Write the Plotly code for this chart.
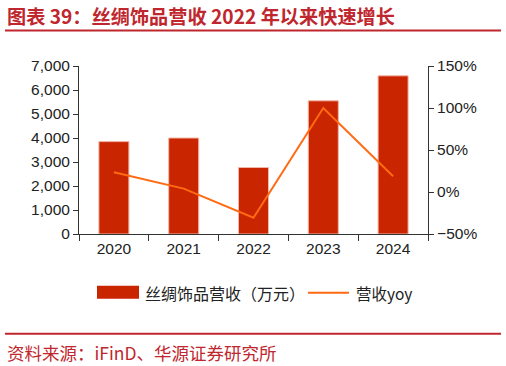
import plotly.graph_objects as go

years = ["2020", "2021", "2022", "2023", "2024"]
revenue = [3850, 4000, 2770, 5550, 6590]          # 丝绸饰品营收（万元）
yoy = [23.6, 4.0, -30.7, 100.0, 18.7]              # 营收yoy (%)
left_ticks = [0, 1000, 2000, 3000, 4000, 5000, 6000, 7000]
right_ticks = [-50, 0, 50, 100, 150]
right_labels = ["−50%", "0%", "50%", "100%", "150%"]

W, H = 506, 366
L, R, T, B = 79, 428, 65.5, 234
PW, PH = R - L, B - T

def px(x):
    return (x - L) / PW

def py(y):
    return (B - y) / PH

BAR = "#C82500"
LINE = "#FF6A13"
RED = "#C0262D"
TXT = "#222222"
AX = "#333333"

fig = go.Figure()
fig.add_trace(go.Bar(
    x=years, y=revenue, name="丝绸饰品营收（万元）",
    marker=dict(color=BAR, line=dict(color="#F2B8A8", width=1)),
    width=0.43, yaxis="y", showlegend=False,
))
fig.add_trace(go.Scatter(
    x=years, y=yoy, name="营收yoy", mode="lines",
    line=dict(color=LINE, width=2), yaxis="y2", showlegend=False,
))

tickfont = dict(family="Liberation Sans, Arial", size=15.5, color=TXT)

fig.update_layout(
    width=W, height=H,
    margin=dict(l=L, r=W - R, t=T, b=H - B, pad=0),
    paper_bgcolor="white", plot_bgcolor="white",
    xaxis=dict(
        type="category", showline=True, linecolor=AX, linewidth=1,
        ticks="outside", tickson="boundaries", ticklen=6, tickcolor=AX,
        tickfont=tickfont, showgrid=False, zeroline=False,
    ),
    yaxis=dict(
        range=[0, 7000], tickvals=left_ticks, tickformat=",",
        showline=True, linecolor=AX, linewidth=1,
        ticks="outside", ticklen=5, tickcolor=AX,
        tickfont=tickfont, showgrid=False, zeroline=False,
    ),
    yaxis2=dict(
        range=[-50, 150], tickmode="array", tickvals=right_ticks, ticktext=right_labels,
        overlaying="y", side="right",
        showline=True, linecolor=AX, linewidth=1,
        ticks="outside", ticklen=5, tickcolor=AX,
        tickfont=tickfont, showgrid=False, zeroline=False,
    ),
    showlegend=False,
)

shapes = [
    dict(type="line", xref="paper", yref="paper", x0=px(5), x1=px(501), y0=py(30), y1=py(30),
         line=dict(color=RED, width=2)),
    dict(type="line", xref="paper", yref="paper", x0=px(5), x1=px(501), y0=py(334), y1=py(334),
         line=dict(color=RED, width=2)),
    dict(type="rect", xref="paper", yref="paper", x0=px(97), x1=px(139), y0=py(299), y1=py(286),
         fillcolor=BAR, line=dict(width=0)),
    dict(type="line", xref="paper", yref="paper", x0=px(308), x1=px(349), y0=py(293), y1=py(293),
         line=dict(color=LINE, width=2)),
]

annotations = [
    dict(text="<b>图表 39：丝绸饰品营收 2022 年以来快速增长</b>", xref="paper", yref="paper",
         x=px(5), y=py(15.5), xanchor="left", yanchor="middle", showarrow=False,
         font=dict(family="Noto Sans CJK SC", size=19.2, color=RED)),
    dict(text="资料来源：iFinD、华源证券研究所", xref="paper", yref="paper",
         x=px(5), y=py(352.5), xanchor="left", yanchor="middle", showarrow=False,
         font=dict(family="Noto Sans CJK SC", size=17.5, color=RED)),
    dict(text="丝绸饰品营收（万元）", xref="paper", yref="paper",
         x=px(143), y=py(293), xanchor="left", yanchor="middle", showarrow=False,
         font=dict(family="Noto Sans CJK SC", size=16, color=TXT)),
    dict(text="营收yoy", xref="paper", yref="paper",
         x=px(354), y=py(293), xanchor="left", yanchor="middle", showarrow=False,
         font=dict(family="Noto Sans CJK SC", size=15.5, color=TXT)),
]

fig.update_layout(shapes=shapes, annotations=annotations)

fig.write_html(
    "out.html",
    config={"displayModeBar": False},
    post_script="document.body.style.margin='0';document.body.style.padding='0';",
)
